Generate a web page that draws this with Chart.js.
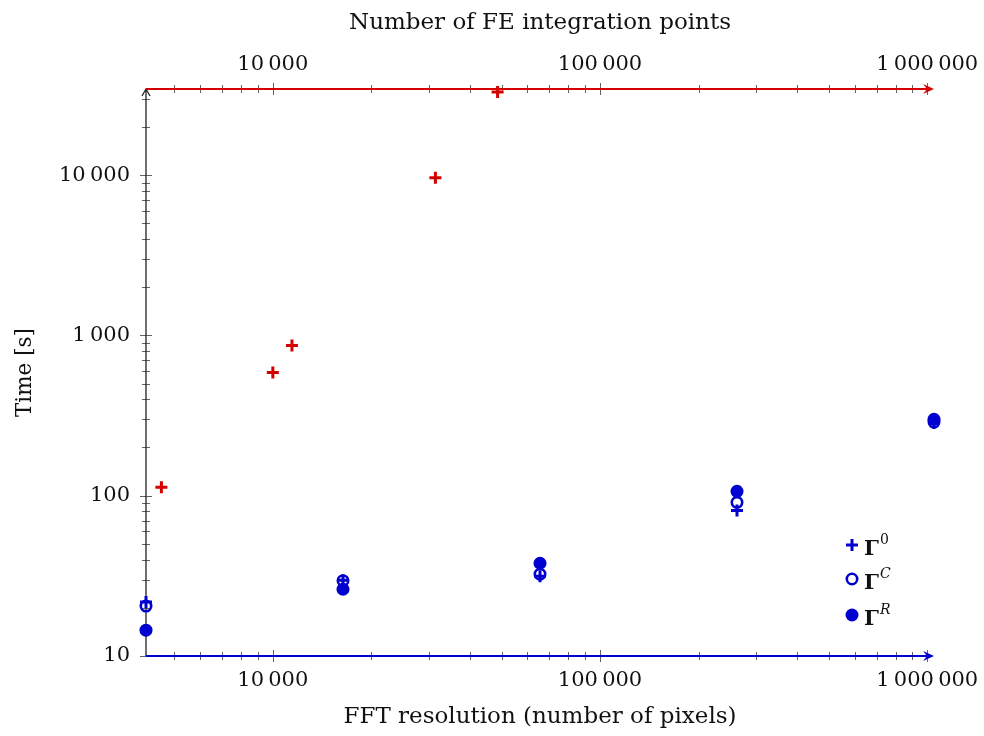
<!DOCTYPE html>
<html>
<head>
<meta charset="utf-8">
<title>Timing</title>
<script src="https://cdn.jsdelivr.net/npm/chart.js@4.4.1/dist/chart.umd.min.js"></script>
<style>
  html, body { margin: 0; padding: 0; background: #fff; }
  #wrap { width: 984px; height: 736px; }
</style>
</head>
<body>
<div id="wrap"><canvas id="chartTiming" width="984" height="736"></canvas></div>
<script>
// FFT runs (bottom axis)
const fftResolution = [4096, 16384, 65536, 262144, 1048576];
const timeGamma0 = [21.7, 29.7, 31.5, 81, 284];
const timeGammaC = [20.5, 29.5, 32.4, 91, 288];
const timeGammaR = [14.5, 26.1, 37.9, 106.5, 300];

// FE runs (top axis)
const feIntegrationPoints = [4565, 10000, 11440, 31390, 48630];
const timeFE = [113, 588, 866, 9640, 33100];

// axis ranges
const xRange = [4096, 1048576];
const yRange = [10, 34500];

const blue = "#0000d0";
const red = "#d40000";
const tickGray = "rgba(70,70,70,0.85)";
const serif = "'DejaVu Serif', serif";

function toPoints(xs, ys) {
  return xs.map((x, i) => ({ x: x, y: ys[i] }));
}

function isDecade(v) {
  const l = Math.log10(v);
  return Math.abs(l - Math.round(l)) < 1e-9;
}

// 1..9 x 10^k inside [min, max]
function logTicks(min, max) {
  const out = [];
  for (let e = Math.floor(Math.log10(min)); e <= Math.ceil(Math.log10(max)); e++) {
    for (let m = 1; m < 10; m++) {
      const v = m * Math.pow(10, e);
      if (v >= min && v <= max) out.push({ value: v });
    }
  }
  return out;
}

function formatTick(value) {
  if (!isDecade(value)) return "";
  return String(Math.round(value)).replace(/\B(?=(\d{3})+(?!\d))/g, "\u2009");
}

function arrowRight(ctx, x, y, color) {
  ctx.fillStyle = color;
  ctx.beginPath();
  ctx.moveTo(x, y);
  ctx.lineTo(x - 11, y - 5);
  ctx.lineTo(x - 7, y);
  ctx.lineTo(x - 11, y + 5);
  ctx.closePath();
  ctx.fill();
}

// axis lines, arrows and straddling tick marks (pgfplots look)
const axisDecor = {
  id: "axisDecor",
  beforeDatasetsDraw(chart) {
    const ctx = chart.ctx;
    const area = chart.chartArea;
    const { x, xTop, y } = chart.scales;
    ctx.save();

    // tick marks
    ctx.strokeStyle = tickGray;
    ctx.lineWidth = 1;
    ctx.beginPath();
    x.ticks.forEach((t) => {
      const px = Math.round(x.getPixelForValue(t.value)) + 0.5;
      const h = isDecade(t.value) ? 6 : 4;
      ctx.moveTo(px, area.bottom - h);
      ctx.lineTo(px, area.bottom + h);
    });
    xTop.ticks.forEach((t) => {
      const px = Math.round(xTop.getPixelForValue(t.value)) + 0.5;
      const h = isDecade(t.value) ? 6 : 4;
      ctx.moveTo(px, area.top - h);
      ctx.lineTo(px, area.top + h);
    });
    y.ticks.forEach((t) => {
      const py = Math.round(y.getPixelForValue(t.value)) + 0.5;
      const w = isDecade(t.value) ? 6 : 4;
      ctx.moveTo(area.left - w, py);
      ctx.lineTo(area.left + w, py);
    });
    ctx.stroke();

    // left axis with open arrow on top
    ctx.strokeStyle = "#222";
    ctx.lineWidth = 1.3;
    ctx.beginPath();
    ctx.moveTo(area.left, area.bottom);
    ctx.lineTo(area.left, area.top);
    ctx.moveTo(area.left - 4, area.top + 7);
    ctx.lineTo(area.left, area.top);
    ctx.lineTo(area.left + 4, area.top + 7);
    ctx.stroke();

    // bottom axis (blue) and top axis (red)
    ctx.lineWidth = 1.8;
    ctx.strokeStyle = blue;
    ctx.beginPath();
    ctx.moveTo(area.left, area.bottom);
    ctx.lineTo(area.right - 6, area.bottom);
    ctx.stroke();
    arrowRight(ctx, area.right, area.bottom, blue);

    ctx.strokeStyle = red;
    ctx.beginPath();
    ctx.moveTo(area.left, area.top);
    ctx.lineTo(area.right - 6, area.top);
    ctx.stroke();
    arrowRight(ctx, area.right, area.top, red);

    ctx.restore();
  },
};

// legend in the lower right corner
const legendEntries = [
  { sup: "0", italic: false, style: "cross", radius: 6, border: 3, fill: blue },
  { sup: "C", italic: true, style: "circle", radius: 5.2, border: 2.6, fill: "rgba(0,0,0,0)" },
  { sup: "R", italic: true, style: "circle", radius: 6.5, border: 0, fill: blue },
];

const cornerLegend = {
  id: "cornerLegend",
  afterDraw(chart) {
    const ctx = chart.ctx;
    const rows = [545, 579, 615];
    ctx.save();
    legendEntries.forEach((e, i) => {
      const yy = rows[i];
      ctx.strokeStyle = blue;
      ctx.fillStyle = e.fill;
      ctx.lineWidth = e.border;
      Chart.helpers.drawPoint(ctx, { pointStyle: e.style, radius: e.radius, rotation: 0, borderWidth: e.border }, 852, yy);

      ctx.fillStyle = "#111";
      ctx.textBaseline = "alphabetic";
      ctx.textAlign = "left";
      ctx.font = "bold 21px " + serif;
      ctx.fillText("\u0393", 864, yy + 10);
      const gw = ctx.measureText("\u0393").width;
      ctx.font = (e.italic ? "italic " : "") + "14px " + serif;
      ctx.fillText(e.sup, 864 + gw + 1, yy - 1);
    });
    ctx.restore();
  },
};

const tickFont = { family: serif, size: 21 };
const xTitleFont = { family: serif, size: 23 };
const yTitleFont = { family: serif, size: 21.5 };

// keep label overflow from shrinking the plot area
function noPadX(s, h) {
  s.height = h;
  s.paddingLeft = 0;
  s.paddingRight = 0;
}

const chartConfig = {
  type: "scatter",
  data: {
    datasets: [
      {
        label: "FE",
        data: toPoints(feIntegrationPoints, timeFE),
        xAxisID: "xTop",
        pointStyle: "cross",
        pointRadius: 6,
        borderWidth: 3,
        borderColor: red,
        backgroundColor: red,
        clip: false,
      },
      {
        label: "Gamma 0",
        data: toPoints(fftResolution, timeGamma0),
        xAxisID: "x",
        pointStyle: "cross",
        pointRadius: 6,
        borderWidth: 3,
        borderColor: blue,
        backgroundColor: blue,
        clip: false,
      },
      {
        label: "Gamma C",
        data: toPoints(fftResolution, timeGammaC),
        xAxisID: "x",
        pointStyle: "circle",
        pointRadius: 5.2,
        borderWidth: 2.6,
        borderColor: blue,
        backgroundColor: "rgba(0,0,0,0)",
        clip: false,
      },
      {
        label: "Gamma R",
        data: toPoints(fftResolution, timeGammaR),
        xAxisID: "x",
        pointStyle: "circle",
        pointRadius: 6.5,
        borderWidth: 0,
        borderColor: blue,
        backgroundColor: blue,
        clip: false,
      },
    ],
  },
  options: {
    responsive: false,
    devicePixelRatio: 1,
    animation: false,
    layout: { padding: { left: 0, right: 50, top: 0, bottom: 0 } },
    plugins: {
      legend: { display: false },
      tooltip: { enabled: false },
    },
    scales: {
      x: {
        type: "logarithmic",
        position: "bottom",
        min: xRange[0],
        max: xRange[1],
        afterBuildTicks: (s) => { s.ticks = logTicks(xRange[0], xRange[1]); },
        afterFit: (s) => noPadX(s, 80),
        grid: { display: false, drawTicks: false },
        border: { display: false },
        ticks: { autoSkip: false, maxRotation: 0, padding: 12, color: "#111", font: tickFont, callback: formatTick },
        title: { display: true, text: "FFT resolution (number of pixels)", color: "#111", font: xTitleFont, padding: { top: 0, bottom: 5 } },
      },
      xTop: {
        type: "logarithmic",
        position: "top",
        min: xRange[0],
        max: xRange[1],
        afterBuildTicks: (s) => { s.ticks = logTicks(xRange[0], xRange[1]); },
        afterFit: (s) => noPadX(s, 89),
        grid: { display: false, drawTicks: false },
        border: { display: false },
        ticks: { autoSkip: false, maxRotation: 0, padding: 12, color: "#111", font: tickFont, callback: formatTick },
        title: { display: true, text: "Number of FE integration points", color: "#111", font: xTitleFont, padding: { top: 9, bottom: 0 } },
      },
      y: {
        type: "logarithmic",
        position: "left",
        min: yRange[0],
        max: yRange[1],
        afterBuildTicks: (s) => { s.ticks = logTicks(yRange[0], yRange[1]); },
        afterFit: (s) => {
          s.width = 146;
          s.paddingTop = 0;
          s.paddingBottom = 0;
        },
        grid: { display: false, drawTicks: false },
        border: { display: false },
        ticks: { autoSkip: false, padding: 16, color: "#111", font: tickFont, callback: formatTick },
        title: { display: true, text: "Time [s]", color: "#111", font: yTitleFont, padding: { top: 13, bottom: 0 } },
      },
    },
  },
  plugins: [axisDecor, cornerLegend],
};

const ctx = document.getElementById("chartTiming").getContext("2d");
window.timingChart = new Chart(ctx, chartConfig);
</script>
</body>
</html>
